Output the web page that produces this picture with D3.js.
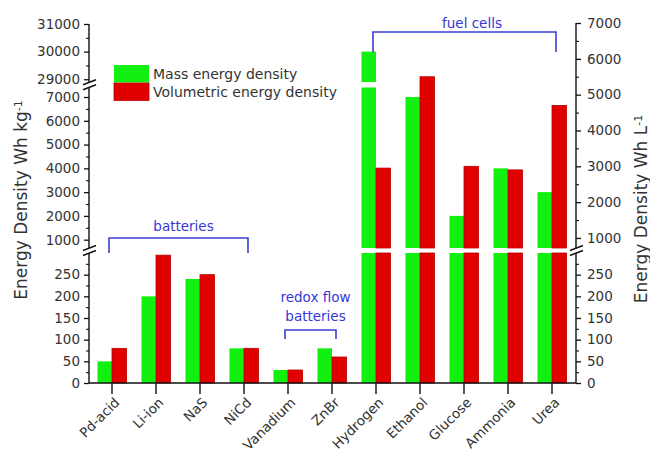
<!DOCTYPE html>
<html>
<head>
<meta charset="utf-8">
<script src="https://cdn.jsdelivr.net/npm/d3@7"></script>
<style>
body { margin: 0; background: #fff; }
text { font-family: "DejaVu Sans", sans-serif; fill: #333; }
.axis-line { stroke: #111; stroke-width: 1.4; }
.blue { fill: #3636d6; }
</style>
</head>
<body>
<svg id="chart" width="650" height="453"></svg>
<script>
var categories = ["Pd-acid", "Li-ion", "NaS", "NiCd", "Vanadium", "ZnBr",
  "Hydrogen", "Ethanol", "Glucose", "Ammonia", "Urea"];
// Wh/kg, read on the left axis
var massDensity = [50, 200, 240, 80, 30, 80, 30000, 7000, 2000, 4000, 3000];
// Wh/L, read on the right axis
var volumetricDensity = [80, 295, 250, 80, 30, 60, 2950, 5500, 3000, 2900, 4700];

var lowTicks = [0, 50, 100, 150, 200, 250];
var lowMinor = [25, 75, 125, 175, 225, 275];
var midTicks = [1000, 2000, 3000, 4000, 5000, 6000, 7000];
var midMinor = [1500, 2500, 3500, 4500, 5500, 6500];
var topTicks = [29000, 30000, 31000];
var topMinor = [29500, 30500];

var seriesNames = ["Mass energy density", "Volumetric energy density"];
var groupNames = ["batteries", "redox flow\nbatteries", "fuel cells"];
var groupSpans = [[0, 3], [4, 5], [6, 10]];

var svg = d3.select("#chart");
var axisLeftX = 89, axisRightX = 576, baseY = 383;

// broken axes: each piece is its own linear scale
var leftPieces = [
  {scale: d3.scaleLinear().domain([0, 300]).range([383, 253]), ticks: lowTicks, minor: lowMinor},
  {scale: d3.scaleLinear().domain([650, 7400]).range([248, 87.5]), ticks: midTicks, minor: midMinor},
  {scale: d3.scaleLinear().domain([28900, 31000]).range([82, 24]), ticks: topTicks, minor: topMinor}
];
var rightPieces = [
  {scale: d3.scaleLinear().domain([0, 300]).range([383, 253]), ticks: lowTicks, minor: lowMinor},
  {scale: d3.scaleLinear().domain([720, 7000]).range([248, 23]), ticks: midTicks, minor: midMinor}
];

var x = d3.scaleBand().domain(categories).range([90, 574]).paddingInner(0).paddingOuter(0);
var xs = d3.scaleBand().domain([0, 1]).range([x.bandwidth() * 0.17, x.bandwidth() * 0.83]);
var colors = ["#12f012", "#e10000"];

// bars
function barPieces(v, pieces) {
  var out = [];
  pieces.forEach(function(p) {
    var lo = p.scale.domain()[0], hi = p.scale.domain()[1];
    if (v > lo) {
      var top = p.scale(Math.min(v, hi));
      out.push({y: top, h: p.scale(lo) - top});
    }
  });
  return out;
}

var bars = svg.append("g");
categories.forEach(function(c, i) {
  [massDensity[i], volumetricDensity[i]].forEach(function(v, s) {
    var pieces = barPieces(v, s == 0 ? leftPieces : rightPieces);
    bars.selectAll(null)
      .data(pieces)
      .enter()
      .append("rect")
      .attr("x", x(c) + xs(s))
      .attr("width", xs.bandwidth())
      .attr("y", function(d) { return d.y; })
      .attr("height", function(d) { return d.h; })
      .attr("fill", colors[s])
      .attr("stroke", s == 0 ? "none" : "#b80000")
      .attr("stroke-width", 0.8);
  });
});

// y axes
function drawSide(pieces, xpos, left) {
  var g = svg.append("g").attr("transform", "translate(" + xpos + ",0)");
  pieces.forEach(function(p) {
    var mk = left ? d3.axisLeft : d3.axisRight;
    g.append("g")
      .call(mk(p.scale).tickValues(p.ticks).tickSize(5).tickPadding(left ? 4 : 6).tickFormat(d3.format("d")))
      .call(function(a) { a.select(".domain").remove(); })
      .call(function(a) {
        a.selectAll("line").attr("stroke", "#111").attr("stroke-width", 1.3);
        a.selectAll("text").attr("font-size", 13.5).attr("font-family", "DejaVu Sans").attr("fill", "#3a3a3a");
      });
    g.append("g")
      .call(mk(p.scale).tickValues(p.minor).tickSize(3).tickFormat(""))
      .call(function(a) { a.select(".domain").remove(); })
      .call(function(a) { a.selectAll("line").attr("stroke", "#111").attr("stroke-width", 1.1); });
    var r = p.scale.range();
    g.append("line").attr("class", "axis-line")
      .attr("x1", 0).attr("x2", 0).attr("y1", r[0]).attr("y2", r[1]);
  });
  // break marks between pieces
  for (var k = 1; k < pieces.length; k++) {
    var yc = (pieces[k - 1].scale.range()[1] + pieces[k].scale.range()[0]) / 2;
    [-2.5, 2.5].forEach(function(o) {
      g.append("line").attr("class", "axis-line")
        .attr("x1", -6).attr("y1", yc + o + 2.5)
        .attr("x2", 7).attr("y2", yc + o - 2.5);
    });
  }
}
drawSide(leftPieces, axisLeftX, true);
drawSide(rightPieces, axisRightX, false);

// x axis
svg.append("line").attr("class", "axis-line")
  .attr("x1", axisLeftX).attr("x2", axisRightX).attr("y1", baseY).attr("y2", baseY);
var xg = svg.append("g").attr("transform", "translate(0," + baseY + ")")
  .call(d3.axisBottom(x).tickSize(11))
  .call(function(a) { a.select(".domain").remove(); });
xg.selectAll("line").attr("stroke", "#111").attr("stroke-width", 1.4);
xg.selectAll("text")
  .attr("x", 0).attr("y", 0).attr("dy", "0.35em")
  .attr("transform", "translate(5,17) rotate(-45)")
  .style("text-anchor", "end")
  .attr("font-size", 13.5).attr("font-family", "DejaVu Sans").attr("fill", "#3a3a3a");

// axis titles
var lt = svg.append("text").attr("transform", "translate(27,200) rotate(-90)")
  .attr("text-anchor", "middle").attr("font-size", 17).attr("fill", "#3a3a3a");
lt.append("tspan").text("Energy Density Wh kg");
lt.append("tspan").attr("dy", "-0.5em").attr("font-size", 11).text("-1");
var rt = svg.append("text").attr("transform", "translate(647,209) rotate(-90)")
  .attr("text-anchor", "middle").attr("font-size", 17).attr("fill", "#3a3a3a");
rt.append("tspan").text("Energy Density Wh L");
rt.append("tspan").attr("dy", "-0.5em").attr("font-size", 11).text("-1");

// legend
var leg = svg.append("g");
seriesNames.forEach(function(n, s) {
  leg.append("rect").attr("x", 114).attr("y", 65 + s * 18).attr("width", 35).attr("height", 17.5)
    .attr("fill", colors[s]).attr("stroke", s == 0 ? "none" : "#b80000").attr("stroke-width", 0.8);
  leg.append("text").attr("x", 153).attr("y", 74 + s * 18).attr("dy", "0.35em")
    .attr("font-size", 14).attr("fill", "#3a3a3a").text(n);
});

// group brackets
var bracketLayout = [
  {top: 238, bottom: 253, textY: 231},
  {top: 330, bottom: 339, textY: 302},
  {top: 32, bottom: 52, textY: 28}
];
groupNames.forEach(function(name, k) {
  var b = bracketLayout[k];
  var x1 = x(categories[groupSpans[k][0]]) + x.bandwidth() / 2 - 3;
  var x2 = x(categories[groupSpans[k][1]]) + x.bandwidth() / 2 + 4;
  svg.append("path")
    .attr("d", "M" + x1 + "," + b.bottom + " V" + b.top + " H" + x2 + " V" + b.bottom)
    .attr("fill", "none").attr("stroke", "#3c3cd8").attr("stroke-width", 1.6);
  var cx = k == 2 ? 472 : (x1 + x2) / 2 + 5;
  var lines = name.split("\n");
  lines.forEach(function(l, j) {
    svg.append("text").attr("class", "blue").attr("x", cx).attr("y", b.textY + j * 19)
      .attr("text-anchor", "middle").attr("font-size", 13.5).text(l);
  });
});
</script>
</body>
</html>
